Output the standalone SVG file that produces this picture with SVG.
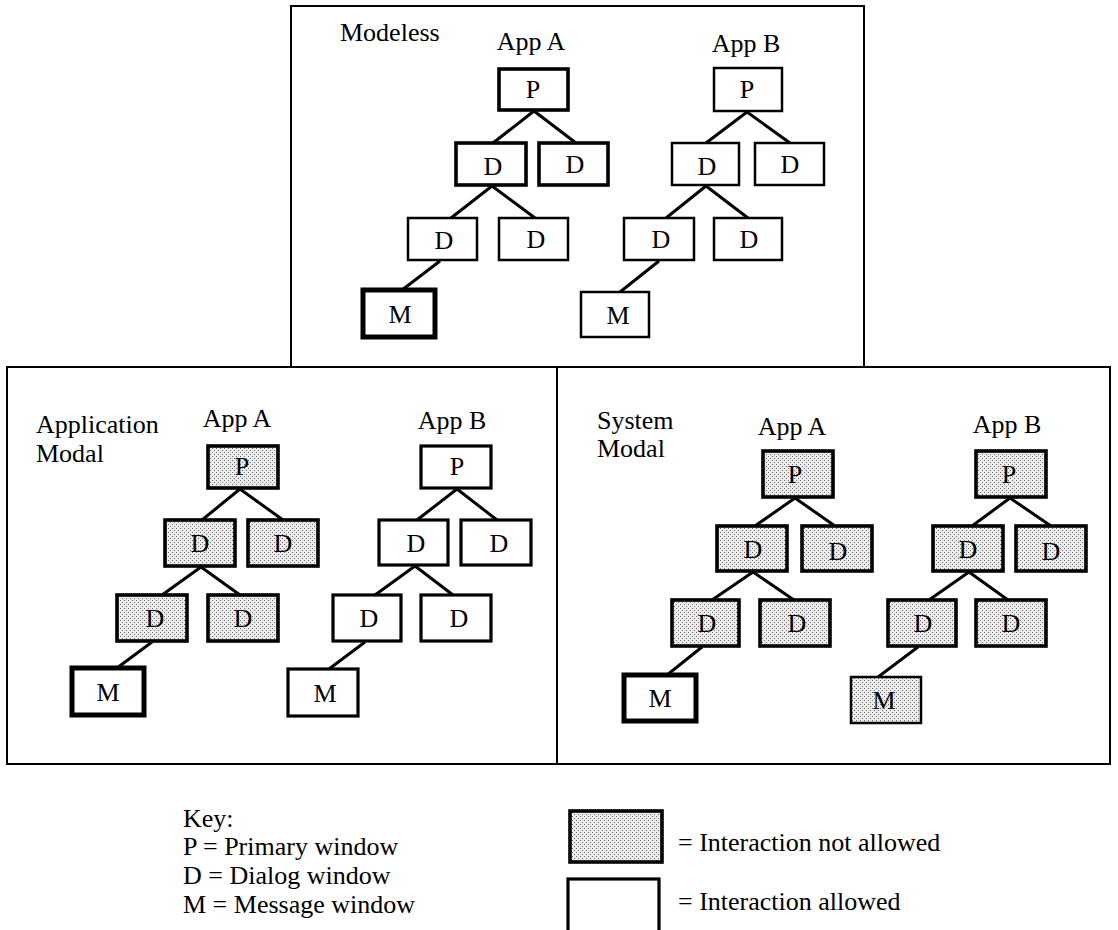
<svg xmlns="http://www.w3.org/2000/svg" width="1118" height="930" viewBox="0 0 1118 930">
<defs>
<pattern id="dots" width="4" height="4" patternUnits="userSpaceOnUse">
<rect width="4" height="4" fill="#ececec"/>
<rect x="0" y="0" width="1" height="1" fill="#6a6a6a"/>
<rect x="2" y="2" width="1" height="1" fill="#6a6a6a"/>
</pattern>
<style>
text{font-family:"Liberation Serif","Times New Roman",serif;font-size:26px;fill:#000}
.n text{text-anchor:middle}
.b{fill:#fff;stroke:#000;stroke-linejoin:miter}
.g{fill:url(#dots);stroke:#000}
.s1{stroke-width:2.5}
.s2{stroke-width:3.2}
.s3{stroke-width:3.6}
.s4{stroke-width:5}
.panel{fill:none;stroke:#000;stroke-width:2}
.c line{stroke:#000;stroke-width:3}
.ttl{text-anchor:middle}
</style>
</defs>
<rect width="1118" height="930" fill="#fff"/>

<g id="panels">
<rect class="panel" x="291" y="6" width="573" height="361"/>
<rect class="panel" x="7" y="367" width="550" height="397"/>
<rect class="panel" x="557" y="367" width="553" height="397"/>
</g>

<g id="labels">
<text x="340" y="41">Modeless</text>
<text class="ttl" x="531" y="50">App A</text>
<text class="ttl" x="746" y="52">App B</text>
<text x="36" y="433">Application</text>
<text x="36" y="462">Modal</text>
<text class="ttl" x="237" y="427">App A</text>
<text class="ttl" x="452" y="429">App B</text>
<text x="597" y="429">System</text>
<text x="597" y="457">Modal</text>
<text class="ttl" x="792" y="435">App A</text>
<text class="ttl" x="1007" y="433">App B</text>
</g>

<g id="connectors" class="c">
<line x1="534" y1="111" x2="493" y2="143"/>
<line x1="534" y1="111" x2="576" y2="143"/>
<line x1="492" y1="186" x2="451" y2="218"/>
<line x1="492" y1="186" x2="535" y2="218"/>
<line x1="440" y1="261" x2="402" y2="290"/>
<line x1="747" y1="112" x2="706" y2="143"/>
<line x1="747" y1="112" x2="790" y2="143"/>
<line x1="706" y1="186" x2="666" y2="218"/>
<line x1="706" y1="186" x2="748" y2="218"/>
<line x1="659" y1="261" x2="620" y2="292"/>
<line x1="240" y1="489" x2="202" y2="520"/>
<line x1="240" y1="489" x2="283" y2="520"/>
<line x1="201" y1="567" x2="162" y2="595"/>
<line x1="201" y1="567" x2="240" y2="595"/>
<line x1="152" y1="642" x2="117" y2="668"/>
<line x1="457" y1="489" x2="417" y2="520"/>
<line x1="457" y1="489" x2="497" y2="520"/>
<line x1="415" y1="566" x2="375" y2="595"/>
<line x1="415" y1="566" x2="453" y2="595"/>
<line x1="365" y1="642" x2="329" y2="669"/>
<line x1="795" y1="498" x2="755" y2="526"/>
<line x1="795" y1="498" x2="835" y2="526"/>
<line x1="753" y1="572" x2="712" y2="600"/>
<line x1="753" y1="572" x2="794" y2="600"/>
<line x1="702" y1="647" x2="667" y2="675"/>
<line x1="1010" y1="498" x2="972" y2="526"/>
<line x1="1010" y1="498" x2="1051" y2="526"/>
<line x1="969" y1="572" x2="929" y2="600"/>
<line x1="969" y1="572" x2="1008" y2="600"/>
<line x1="918" y1="647" x2="878" y2="677"/>
</g>

<g id="modeless-a-p" class="n"><rect class="b s3" x="499" y="69" width="69" height="41"/><text x="533" y="98">P</text></g>
<g id="modeless-a-d1" class="n"><rect class="b s3" x="456" y="143" width="70" height="42"/><text x="493" y="175">D</text></g>
<g id="modeless-a-d2" class="n"><rect class="b s3" x="539" y="143" width="69" height="42"/><text x="575" y="173">D</text></g>
<g id="modeless-a-d3" class="n"><rect class="b s1" x="408" y="218" width="69" height="42"/><text x="444" y="249">D</text></g>
<g id="modeless-a-d4" class="n"><rect class="b s1" x="499" y="218" width="69" height="42"/><text x="536" y="248">D</text></g>
<g id="modeless-a-m" class="n"><rect class="b s4" x="363" y="290" width="72" height="47"/><text x="400" y="323">M</text></g>

<g id="modeless-b-p" class="n"><rect class="b s1" x="714" y="68" width="68" height="43"/><text x="747" y="98">P</text></g>
<g id="modeless-b-d1" class="n"><rect class="b s1" x="672" y="143" width="67" height="42"/><text x="707" y="175">D</text></g>
<g id="modeless-b-d2" class="n"><rect class="b s1" x="755" y="143" width="69" height="42"/><text x="790" y="173">D</text></g>
<g id="modeless-b-d3" class="n"><rect class="b s1" x="624" y="218" width="70" height="42"/><text x="661" y="248">D</text></g>
<g id="modeless-b-d4" class="n"><rect class="b s1" x="714" y="218" width="68" height="42"/><text x="749" y="248">D</text></g>
<g id="modeless-b-m" class="n"><rect class="b s1" x="581" y="292" width="68" height="45"/><text x="618" y="324">M</text></g>

<g id="appmodal-a-p" class="n"><rect class="g s3" x="208" y="446" width="70" height="42"/><text x="242" y="475">P</text></g>
<g id="appmodal-a-d1" class="n"><rect class="g s3" x="165" y="520" width="70" height="46"/><text x="200" y="552">D</text></g>
<g id="appmodal-a-d2" class="n"><rect class="g s3" x="248" y="520" width="70" height="46"/><text x="283" y="552">D</text></g>
<g id="appmodal-a-d3" class="n"><rect class="g s3" x="117" y="595" width="70" height="46"/><text x="155" y="627">D</text></g>
<g id="appmodal-a-d4" class="n"><rect class="g s3" x="208" y="595" width="70" height="46"/><text x="243" y="627">D</text></g>
<g id="appmodal-a-m" class="n"><rect class="b s4" x="72" y="668" width="72" height="47"/><text x="108" y="701">M</text></g>

<g id="appmodal-b-p" class="n"><rect class="b s2" x="421" y="446" width="70" height="42"/><text x="457" y="475">P</text></g>
<g id="appmodal-b-d1" class="n"><rect class="b s2" x="379" y="520" width="69" height="45"/><text x="416" y="552">D</text></g>
<g id="appmodal-b-d2" class="n"><rect class="b s2" x="461" y="520" width="70" height="45"/><text x="499" y="552">D</text></g>
<g id="appmodal-b-d3" class="n"><rect class="b s2" x="333" y="595" width="68" height="46"/><text x="369" y="627">D</text></g>
<g id="appmodal-b-d4" class="n"><rect class="b s2" x="421" y="595" width="70" height="46"/><text x="459" y="627">D</text></g>
<g id="appmodal-b-m" class="n"><rect class="b s2" x="288" y="669" width="70" height="47"/><text x="325" y="702">M</text></g>

<g id="sysmodal-a-p" class="n"><rect class="g s3" x="763" y="451" width="70" height="46"/><text x="795" y="483">P</text></g>
<g id="sysmodal-a-d1" class="n"><rect class="g s3" x="717" y="526" width="70" height="45"/><text x="753" y="558">D</text></g>
<g id="sysmodal-a-d2" class="n"><rect class="g s3" x="802" y="526" width="70" height="45"/><text x="838" y="560">D</text></g>
<g id="sysmodal-a-d3" class="n"><rect class="g s3" x="672" y="600" width="67" height="46"/><text x="707" y="632">D</text></g>
<g id="sysmodal-a-d4" class="n"><rect class="g s3" x="760" y="600" width="70" height="46"/><text x="797" y="632">D</text></g>
<g id="sysmodal-a-m" class="n"><rect class="b s4" x="624" y="675" width="72" height="46"/><text x="660" y="707">M</text></g>

<g id="sysmodal-b-p" class="n"><rect class="g s3" x="976" y="451" width="70" height="46"/><text x="1009" y="483">P</text></g>
<g id="sysmodal-b-d1" class="n"><rect class="g s3" x="933" y="526" width="70" height="45"/><text x="968" y="558">D</text></g>
<g id="sysmodal-b-d2" class="n"><rect class="g s3" x="1016" y="526" width="70" height="45"/><text x="1051" y="560">D</text></g>
<g id="sysmodal-b-d3" class="n"><rect class="g s3" x="888" y="600" width="68" height="46"/><text x="923" y="632">D</text></g>
<g id="sysmodal-b-d4" class="n"><rect class="g s3" x="976" y="600" width="70" height="46"/><text x="1011" y="632">D</text></g>
<g id="sysmodal-b-m" class="n"><rect class="g s1" x="851" y="677" width="70" height="46"/><text x="884" y="709">M</text></g>

<g id="key">
<text x="183" y="827">Key:</text>
<text x="183" y="855">P = Primary window</text>
<text x="183" y="884">D = Dialog window</text>
<text x="183" y="913">M = Message window</text>
<rect class="g s3" x="570" y="811" width="92" height="51"/>
<text x="678" y="851">= Interaction not allowed</text>
<rect class="b s2" x="568" y="879" width="91" height="60"/>
<text x="678" y="910">= Interaction allowed</text>
</g>
</svg>
